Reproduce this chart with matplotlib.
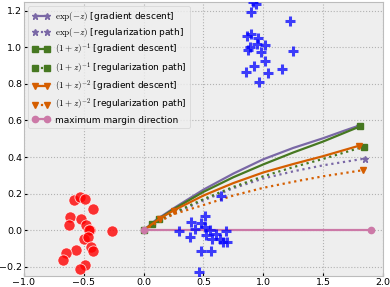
import matplotlib
matplotlib.use("Agg")
import matplotlib.pyplot as plt

plt.style.use("bmh")
plt.rcParams["font.size"] = 7

# negative class (red circles)
neg_x = [-0.586, -0.533, -0.49, -0.422, -0.613, -0.525, -0.623, -0.483, -0.452, -0.46,
         -0.265, -0.497, -0.467, -0.442, -0.427, -0.567, -0.649, -0.677, -0.494, -0.536]
neg_y = [0.165, 0.182, 0.169, 0.116, 0.074, 0.062, 0.029, 0.027, 0.002, 0.0,
         -0.002, -0.046, -0.038, -0.093, -0.111, -0.109, -0.126, -0.164, -0.191, -0.211]

# positive class (blue plus), two clusters
pos_x = [0.915, 0.94, 0.898, 1.219, 0.862, 0.895, 0.957, 0.948, 0.89, 0.868,
         1.013, 0.977, 1.25, 1.015, 0.921, 0.854, 1.035, 1.152, 0.962,
         0.299, 0.396, 0.516, 0.48, 0.429, 0.387, 0.516, 0.555, 0.519, 0.605,
         0.575, 0.639, 0.661, 0.694, 0.689, 0.647, 0.48, 0.566, 0.466]
pos_y = [1.249, 1.238, 1.193, 1.144, 1.062, 1.073, 1.052, 1.02, 1.003, 0.985,
         1.013, 0.974, 0.981, 0.925, 0.896, 0.863, 0.858, 0.883, 0.812,
         -0.002, 0.047, 0.078, 0.042, 0.005, -0.038, 0.02, 0.002, -0.026, -0.022,
         -0.048, -0.049, -0.062, -0.064, -0.002, 0.189, -0.113, -0.113, -0.228]

# gradient descent paths
exp_gd_x = [0, 0.1, 0.25, 0.5, 0.75, 1.0, 1.25, 1.5, 1.68, 1.8]
exp_gd_y = [0, 0.055, 0.12, 0.222, 0.31, 0.388, 0.45, 0.503, 0.545, 0.572]
inv1_gd_x = [0, 0.07, 0.13, 0.25, 0.5, 0.75, 1.0, 1.25, 1.5, 1.81]
inv1_gd_y = [0, 0.034, 0.063, 0.115, 0.21, 0.29, 0.36, 0.425, 0.485, 0.568]
inv2_gd_x = [0, 0.134, 0.25, 0.5, 0.75, 1.0, 1.25, 1.5, 1.8]
inv2_gd_y = [0, 0.064, 0.108, 0.19, 0.258, 0.316, 0.362, 0.405, 0.462]

# regularization paths
exp_rp_x = [0, 0.1, 0.25, 0.5, 0.75, 1.0, 1.25, 1.5, 1.85]
exp_rp_y = [0, 0.04, 0.09, 0.163, 0.23, 0.283, 0.322, 0.355, 0.392]
inv1_rp_x = [0, 0.1, 0.25, 0.5, 0.75, 1.0, 1.25, 1.5, 1.84]
inv1_rp_y = [0, 0.042, 0.095, 0.17, 0.237, 0.295, 0.345, 0.39, 0.457]
inv2_rp_x = [0, 0.1, 0.25, 0.5, 0.75, 1.0, 1.25, 1.5, 1.83]
inv2_rp_y = [0, 0.037, 0.088, 0.138, 0.19, 0.232, 0.265, 0.295, 0.328]

# maximum margin direction
mm_x = [0, 1.9]
mm_y = [0, 0]

purple, green, orange, pink = "#7A68A6", "#467821", "#D55E00", "#CC79A7"

fig = plt.figure(figsize=(3.9, 2.87), dpi=100)
ax = fig.add_axes([0.0615, 0.0383, 0.9205, 0.9563])

lw = 1.6
ax.plot(exp_gd_x, exp_gd_y, "-*", color=purple, lw=lw, ms=5, markevery=[0, len(exp_gd_x) - 1],
        label=r"$\exp(-z)$ [gradient descent]")
ax.plot(exp_rp_x, exp_rp_y, ":*", color=purple, lw=lw, ms=5, markevery=[len(exp_rp_x) - 1],
        label=r"$\exp(-z)$ [regularization path]")
ax.plot(inv1_gd_x, inv1_gd_y, "-s", color=green, lw=lw, ms=4.5, markevery=[0, 1, 2, len(inv1_gd_x) - 1],
        label=r"$(1+z)^{-1}$ [gradient descent]")
ax.plot(inv1_rp_x, inv1_rp_y, ":s", color=green, lw=lw, ms=4.5, markevery=[len(inv1_rp_x) - 1],
        label=r"$(1+z)^{-1}$ [regularization path]")
ax.plot(inv2_gd_x, inv2_gd_y, "-v", color=orange, lw=lw, ms=5, markevery=[1, 2, len(inv2_gd_x) - 1],
        label=r"$(1+z)^{-2}$ [gradient descent]")
ax.plot(inv2_rp_x, inv2_rp_y, ":v", color=orange, lw=lw, ms=5, markevery=[len(inv2_rp_x) - 1],
        label=r"$(1+z)^{-2}$ [regularization path]")
ax.plot(mm_x, mm_y, "-o", color=pink, lw=lw, ms=4.5, label="maximum margin direction")

ax.scatter(neg_x, neg_y, s=65, c="#ff0000", alpha=0.8, edgecolors="white", linewidths=0.6, zorder=3)
ax.scatter(pos_x, pos_y, s=60, c="#0000ff", marker="+", alpha=0.75, linewidths=2.2, zorder=3)

ax.set_xlim(-1.0, 2.0)
ax.set_ylim(-0.25, 1.25)
ax.set_xticks([-1.0, -0.5, 0.0, 0.5, 1.0, 1.5, 2.0])
ax.set_yticks([-0.2, 0.0, 0.2, 0.4, 0.6, 0.8, 1.0, 1.2])
ax.tick_params(length=2.5, pad=1.2, labelsize=6.8)
ax.grid(True, linestyle=":", color="#b2b2b2", linewidth=0.8)
ax.legend(loc="upper left", numpoints=2, fontsize=6.5, handlelength=2.0, borderpad=0.4,
          labelspacing=0.35, handletextpad=0.5)

fig.savefig("out.png", dpi=100)
